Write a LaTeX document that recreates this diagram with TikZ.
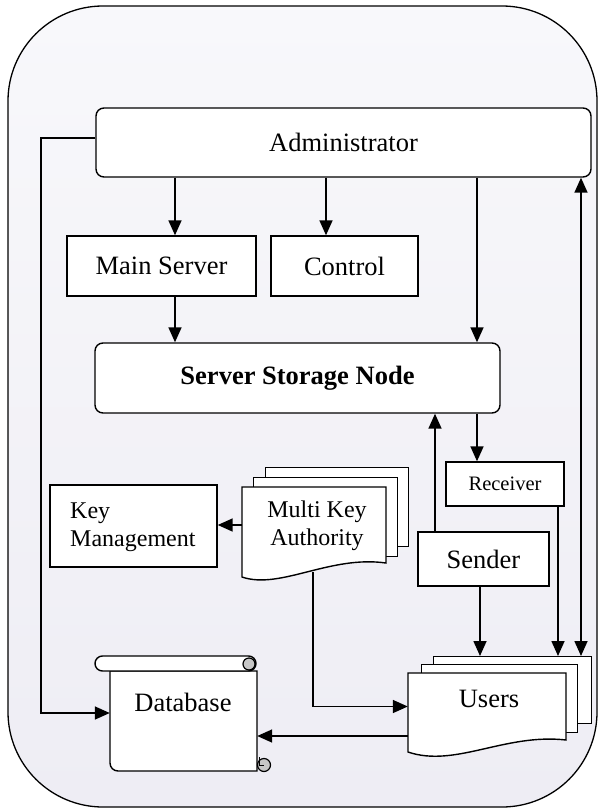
\documentclass[tikz,border=0pt]{standalone}
\usepackage{fontspec}
\setmainfont{Liberation Serif}
\usetikzlibrary{arrows.meta,calc}
\definecolor{bgtop}{HTML}{F8F8FB}
\definecolor{bgbot}{HTML}{EEEDF4}
\definecolor{curlgray}{HTML}{C6C6C6}
\begin{document}
\begin{tikzpicture}[x=1pt,y=-1pt,
  box/.style={draw, line width=1.4pt, fill=white, inner sep=0pt},
  rbox/.style={box, rounded corners=8pt},
  shp/.style={draw, line width=1.4pt, fill=white},
  conn/.style={line width=1.6pt, -{Triangle[length=15pt,width=13pt]}},
  dconn/.style={line width=1.6pt, {Triangle[length=15pt,width=13pt]}-{Triangle[length=15pt,width=13pt]}},
  big/.style={font=\fontsize{26.5}{30}\selectfont},
  mid/.style={font=\fontsize{24}{28}\selectfont},
  txt/.style={inner sep=0pt},
  ghost/.style={inner sep=0pt, draw=none},
 ]
\useasboundingbox (0,0) rectangle (598,808);
% outer frame
\shade[top color=bgtop, bottom color=bgbot, draw=black, line width=1.3pt, rounded corners=95pt] (8,6) rectangle (597,807);

% x positions of vertical connectors
\coordinate (xa) at (175,0);
\coordinate (xb) at (326,0);
\coordinate (xc) at (477,0);
\coordinate (xd) at (435,0);
\coordinate (xe) at (480,0);
\coordinate (xf) at (558,0);
\coordinate (xg) at (581,0);
\coordinate (lft) at (41,713);
\coordinate (mkab) at (313,572);

% boxes
\node[rbox, big, minimum width=495pt, minimum height=69pt] (admin) at (343.5,142.5) {Administrator};
\node[box, big, minimum width=189pt, minimum height=60pt] (ms) at (161.5,266) {Main Server};
\node[box, big, minimum width=147pt, minimum height=60pt] (ctrl) at (344.5,266) {Control};
\node[rbox, minimum width=405pt, minimum height=70pt, font=\fontsize{26.5}{30}\selectfont\bfseries] (ssn) at (297.5,378) {Server Storage Node};
\node[box, font=\fontsize{20.5}{24}\selectfont, minimum width=118pt, minimum height=44pt] (rcv) at (505,484) {Receiver};
\node[box, minimum width=167pt, minimum height=82pt] (km) at (133.5,526) {};
\node[txt, mid, anchor=west, align=left] (kmtext) at (70,527) {Key\\Management};
\node[box, big, minimum width=131pt, minimum height=54pt] (sender) at (483.5,559) {Sender};

% Multi Key Authority (stacked documents)
\node[box, anchor=north west, minimum width=143pt, minimum height=79pt] (mka3) at (265,467) {};
\node[box, anchor=north west, minimum width=144pt, minimum height=79pt] (mka2) at (253,477) {};
\draw[shp] (242,487) -- (386,487) -- (386,563) .. controls (330,555) and (280,590) .. (242,577) -- cycle;
\node[ghost, minimum width=144pt, minimum height=76pt] (mka) at (314,525) {};
\node[txt, mid, align=center] (mkatext) at (317,526) {Multi Key\\Authority};

% Users (stacked documents)
\node[box, anchor=north west, minimum width=158pt, minimum height=67pt] (users3) at (433,656) {};
\node[box, anchor=north west, minimum width=156pt, minimum height=68pt] (users2) at (421,664) {};
\draw[shp] (408,673) -- (566,673) -- (566,740) .. controls (505,733) and (455,768) .. (408,752) -- cycle;
\node[ghost, minimum width=158pt, minimum height=67pt] (users) at (487,706.5) {};
\node[txt, big] (userstext) at (489,699) {Users};

% Database (scroll)
\draw[shp] (110,671) -- (110,763) arc[start angle=180, end angle=90, radius=8] -- (257,771) -- (257,671) -- cycle;
\draw[line width=1.2pt, fill=curlgray] (264,765) circle (6.5);
\draw[line width=1pt] (259,757) -- (259,765) -- (264,765);
\draw[shp, rounded corners=7.5pt] (95,656) rectangle (256,671);
\draw[line width=1.2pt, fill=curlgray] (249,664) circle (6);
\node[ghost, minimum width=147pt, minimum height=100pt] (db) at (183.5,721) {};
\node[txt, big] (dbtext) at (183,702) {Database};

% connectors
\draw[conn] (admin.south -| xa) -- (ms.north -| xa);
\draw[conn] (admin.south -| xb) -- (ctrl.north -| xb);
\draw[conn] (admin.south -| xc) -- (ssn.north -| xc);
\draw[conn] (ms.south -| xa) -- (ssn.north -| xa);
\draw[conn] (sender.north -| xd) -- (ssn.south -| xd);
\draw[conn] (ssn.south -| xc) -- (rcv.north -| xc);
\draw[conn] (mka.west) -- (mka.west -| km.east);
\draw[conn] (sender.south -| xe) -- (users3.north -| xe);
\draw[conn] (rcv.south -| xf) -- (users3.north -| xf);
\draw[dconn] (admin.south -| xg) -- (users3.north -| xg);
\draw[conn] (mkab) |- (users.west);
\draw[conn] ([yshift=4.5pt]admin.west) -| (lft) -- (lft -| db.west);
\draw[conn] ([yshift=-29.5pt]users.west) -- ([yshift=-29.5pt]users.west -| db.east);
\end{tikzpicture}
\end{document}
